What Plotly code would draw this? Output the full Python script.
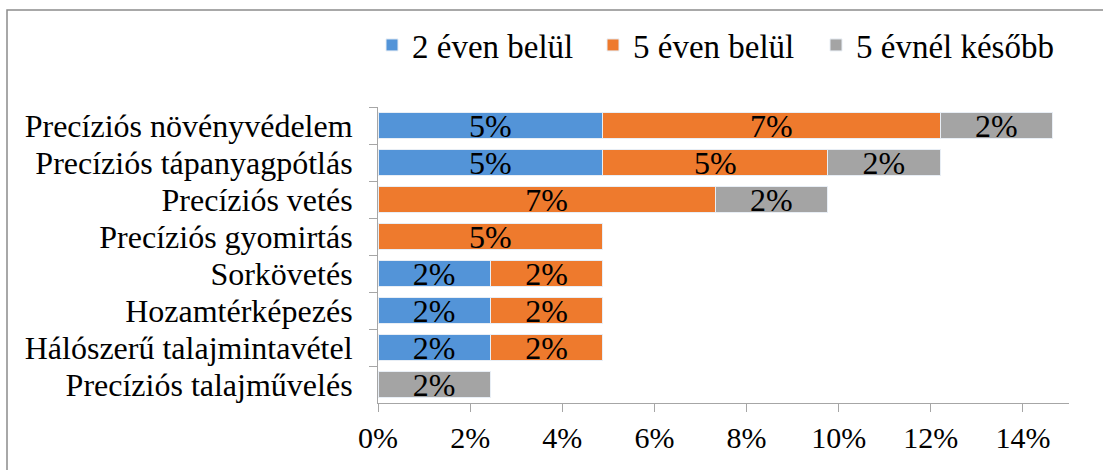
import plotly.graph_objects as go

categories = [
    "Precíziós növényvédelem",
    "Precíziós tápanyagpótlás",
    "Precíziós vetés",
    "Precíziós gyomirtás",
    "Sorkövetés",
    "Hozamtérképezés",
    "Hálószerű talajmintavétel",
    "Precíziós talajművelés",
]
series_names = ["2 éven belül", "5 éven belül", "5 évnél később"]
within_2 = [0.0488, 0.0488, None, None, 0.0244, 0.0244, 0.0244, None]
within_5 = [0.0732, 0.0488, 0.0732, 0.0488, 0.0244, 0.0244, 0.0244, None]
later_5 = [0.0244, 0.0244, 0.0244, None, None, None, None, 0.0244]
tick_vals = [0, 0.02, 0.04, 0.06, 0.08, 0.10, 0.12, 0.14]
tick_text = ["0%", "2%", "4%", "6%", "8%", "10%", "12%", "14%"]

colors = ["#5394d8", "#ee7a2d", "#a4a4a4"]
FONT = "Liberation Serif"

W, H = 1103, 470
legend_ids = ["legend2", "legend3", "legend4"]
legend_left_px = [372, 593, 816]

fig = go.Figure()
for name, vals, col, lid in zip(series_names, [within_2, within_5, later_5], colors, legend_ids):
    fig.add_trace(go.Bar(
        name=name, y=categories, x=vals, orientation="h", legend=lid,
        marker=dict(color=col, line=dict(color="#e8eef5", width=1)),
        texttemplate="%{x:.0%}", textposition="inside", insidetextanchor="middle",
        textfont=dict(family=FONT, size=32, color="#000000"),
        constraintext="none",
    ))

legend_common = dict(orientation="h", xref="container", yref="container",
                     xanchor="left", y=1 - 45 / H, yanchor="middle",
                     font=dict(family=FONT, size=33, color="#000000"),
                     bgcolor="rgba(0,0,0,0)", itemclick=False)
legends = {}
for lid, px in zip(legend_ids, legend_left_px):
    legends[lid] = dict(legend_common, x=px / W)

fig.update_layout(
    barmode="stack",
    bargap=0.3,
    width=W, height=H,
    margin=dict(l=378, r=34, t=107, b=67, autoexpand=False),
    paper_bgcolor="white", plot_bgcolor="white",
    font=dict(family=FONT, size=32, color="#000000"),
    uniformtext=dict(mode=False),
    **legends,
    xaxis=dict(range=[0, 0.15], tickvals=tick_vals, ticktext=tick_text,
               showgrid=False, zeroline=False, showline=True, linecolor="#a6a6a6",
               linewidth=1, ticks="outside", ticklen=8, tickcolor="#a6a6a6",
               ticklabelstandoff=0, automargin=False,
               tickfont=dict(family=FONT, size=30, color="#000000")),
    yaxis=dict(autorange="reversed", showgrid=False, showline=True,
               tickmode="linear", tick0=0, dtick=1,
               linecolor="#a6a6a6", linewidth=1, ticks="outside", ticklen=8,
               tickcolor="#a6a6a6", tickson="boundaries", automargin=False,
               ticklabelstandoff=18,
               tickfont=dict(family=FONT, size=32, color="#000000")),
    shapes=[dict(type="rect", xref="paper", yref="paper",
                 x0=(7 - 378) / 691, x1=1.2, y0=-0.5, y1=(403 - 10) / 296,
                 line=dict(color="#8c8c8c", width=1.5), fillcolor="rgba(0,0,0,0)")],
)

fig.write_html("out.html", config={"displayModeBar": False},
               post_script="document.body.style.margin='0px';")
